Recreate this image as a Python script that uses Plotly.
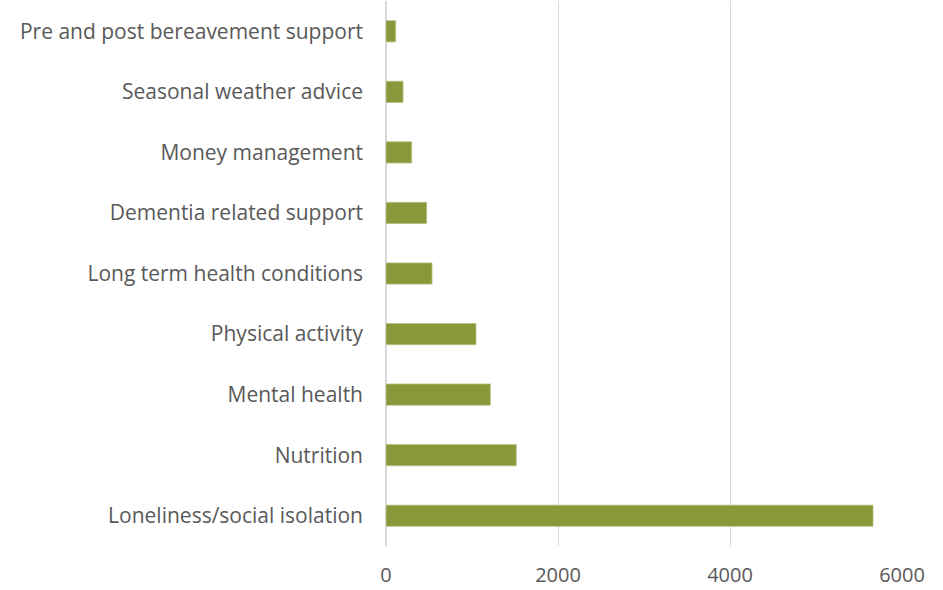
import plotly.graph_objects as go

categories = [
    "Loneliness/social isolation",
    "Nutrition",
    "Mental health",
    "Physical activity",
    "Long term health conditions",
    "Dementia related support",
    "Money management",
    "Seasonal weather advice",
    "Pre and post bereavement support",
]
values = [5663, 1515, 1213, 1046, 535, 472, 298, 198, 112]
tick_vals = [0, 2000, 4000, 6000]
tick_text = ["0", "2000", "4000", "6000"]

fig = go.Figure(
    go.Bar(
        y=categories,
        x=values,
        orientation="h",
        marker=dict(color="#88983A", line=dict(color="#B5C07F", width=0.8)),
    )
)

fig.update_layout(
    width=943,
    height=590,
    margin=dict(l=386, r=41, t=1, b=44, autoexpand=False),
    plot_bgcolor="white",
    paper_bgcolor="white",
    bargap=0.65,
    showlegend=False,
    font=dict(family="Open Sans", color="#595959", size=21),
)
fig.update_xaxes(
    range=[0, 6000],
    tickvals=tick_vals,
    ticktext=tick_text,
    showgrid=True,
    gridcolor="#D9D9D9",
    gridwidth=1.3,
    zeroline=True,
    zerolinecolor="#D9D9D9",
    zerolinewidth=2,
    showline=False,
    ticks="",
    automargin=False,
    ticklabelstandoff=15,
    tickfont=dict(size=20),
)
fig.update_yaxes(
    categoryorder="array",
    categoryarray=categories,
    showgrid=False,
    showline=False,
    ticks="",
    automargin=False,
    ticklabelstandoff=22,
    tickfont=dict(size=21),
)

fig.write_html(
    "out.html",
    config={"displayModeBar": False},
    post_script="document.body.style.margin='0';document.body.style.overflow='hidden';",
)
